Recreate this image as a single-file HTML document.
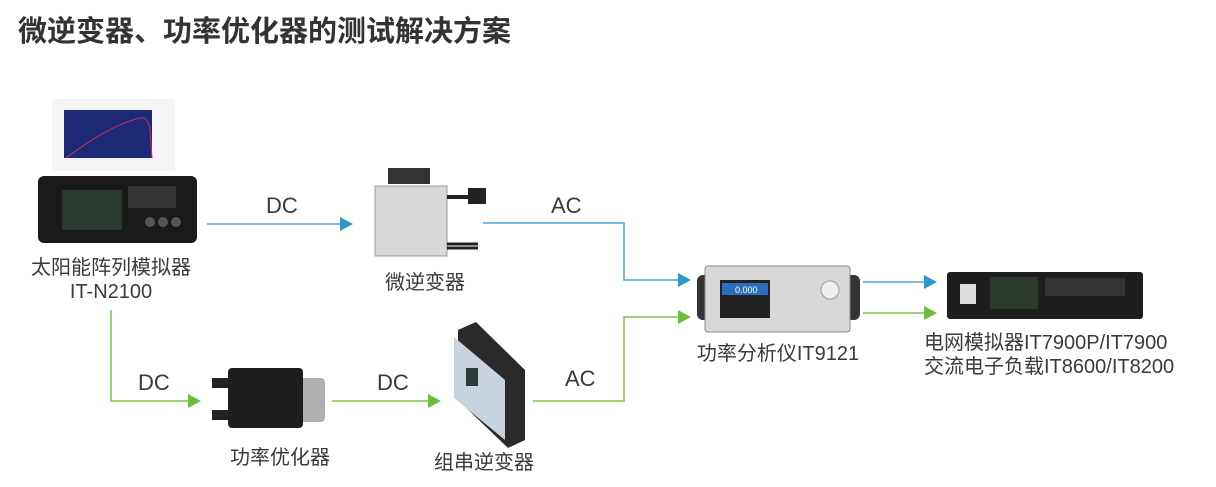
<!DOCTYPE html>
<html><head><meta charset="utf-8"><style>
body{margin:0;width:1216px;height:487px;background:#fff;position:relative;overflow:hidden;font-family:"Liberation Sans","Noto Sans CJK SC",sans-serif;color:#333}
.a{position:absolute}
.t{position:absolute;font-size:20px;color:#3a3a3a;text-align:center;white-space:nowrap;line-height:24px}
.l{position:absolute;font-size:22px;color:#3a3a3a}
</style></head><body>
<div class="a" style="left:18px;top:8px;font-size:29px;font-weight:bold;color:#333;font-family:'Noto Sans CJK SC',sans-serif">微逆变器、功率优化器的测试解决方案</div>

<svg class="a" style="left:0;top:0" width="1216" height="487">
<g fill="none" stroke-width="1.5">
<path d="M207 224H342" stroke="#4aa8d8"/>
<path d="M483 223H624V280H680" stroke="#4aa8d8"/>
<path d="M863 282H925" stroke="#4aa8d8"/>
<path d="M111 310V401H188" stroke="#7cc44c"/>
<path d="M332 401H430" stroke="#7cc44c"/>
<path d="M533 401H624V317H680" stroke="#7cc44c"/>
<path d="M863 313H925" stroke="#7cc44c"/>
</g>
<g>
<path d="M340 217L353 224L340 231Z" fill="#2a97cf"/>
<path d="M678 273L691 280L678 287Z" fill="#2a97cf"/>
<path d="M924 275L937 282L924 289Z" fill="#2a97cf"/>
<path d="M188 394L201 401L188 408Z" fill="#6cbf3c"/>
<path d="M428 394L441 401L428 408Z" fill="#6cbf3c"/>
<path d="M678 310L691 317L678 324Z" fill="#6cbf3c"/>
<path d="M924 306L937 313L924 320Z" fill="#6cbf3c"/>
</g>
<rect x="52" y="99" width="123" height="72" fill="#f4f4f6"/>
<rect x="64" y="110" width="88" height="48" fill="#1d2a78"/>
<path d="M66 158Q110 125 140 118Q148 116 150 130L152 158" stroke="#d03050" fill="none"/>
<rect x="38" y="176" width="159" height="67" rx="6" fill="#1a1a1a"/>
<rect x="62" y="190" width="60" height="40" fill="#2a3a30"/>
<rect x="128" y="186" width="48" height="22" fill="#333"/>
<circle cx="150" cy="222" r="5" fill="#555"/><circle cx="163" cy="222" r="5" fill="#555"/><circle cx="176" cy="222" r="5" fill="#555"/>
<rect x="388" y="168" width="42" height="16" fill="#333"/>
<rect x="375" y="186" width="72" height="70" fill="#d8d8da" stroke="#999"/>
<path d="M447 197H470M470 190h14v12h-14z" stroke="#222" stroke-width="4" fill="#222"/>
<path d="M447 244H478M447 248H478" stroke="#222" stroke-width="3"/>
<rect x="262" y="378" width="63" height="44" rx="4" fill="#b0b0b0"/>
<rect x="228" y="368" width="75" height="60" rx="4" fill="#1e1e1e"/>
<rect x="212" y="378" width="16" height="10" fill="#222"/><rect x="212" y="410" width="16" height="10" fill="#222"/>
<path d="M458 330L476 322L525 370V440L508 448L458 400Z" fill="#2a2a2a"/>
<path d="M454 337L505 380V440L454 398Z" fill="#c9d3de"/>
<rect x="466" y="368" width="12" height="18" fill="#2d3a3a"/>
<rect x="697" y="275" width="14" height="45" rx="6" fill="#333"/>
<rect x="846" y="275" width="14" height="45" rx="6" fill="#333"/>
<rect x="705" y="266" width="145" height="66" rx="3" fill="#d8d8d8" stroke="#888"/>
<rect x="720" y="280" width="50" height="38" fill="#222"/>
<rect x="722" y="283" width="46" height="12" fill="#2a6fbe"/>
<text x="735" y="293" font-size="9" fill="#fff" font-family="Liberation Sans">0.000</text>
<circle cx="830" cy="290" r="9" fill="#eee" stroke="#999"/>
<rect x="947" y="272" width="196" height="47" rx="3" fill="#1e1e1e"/>
<rect x="960" y="284" width="16" height="20" fill="#ddd"/>
<rect x="990" y="277" width="48" height="32" fill="#2c3a2c"/>
<rect x="1045" y="278" width="80" height="18" fill="#333"/>
</svg>

<div class="l" style="left:266px;top:193px">DC</div>
<div class="l" style="left:551px;top:193px">AC</div>
<div class="l" style="left:138px;top:370px">DC</div>
<div class="l" style="left:377px;top:370px">DC</div>
<div class="l" style="left:565px;top:366px">AC</div>

<div class="t" style="left:11px;width:200px;top:256px">太阳能阵列模拟器<br>IT-N2100</div>
<div class="t" style="left:365px;width:120px;top:271px">微逆变器</div>
<div class="t" style="left:220px;width:120px;top:446px">功率优化器</div>
<div class="t" style="left:424px;width:120px;top:451px">组串逆变器</div>
<div class="t" style="left:678px;width:200px;top:342px">功率分析仪IT9121</div>
<div class="t" style="left:924px;width:240px;top:331px">电网模拟器IT7900P/IT7900<br>交流电子负载IT8600/IT8200</div>
</body></html>
